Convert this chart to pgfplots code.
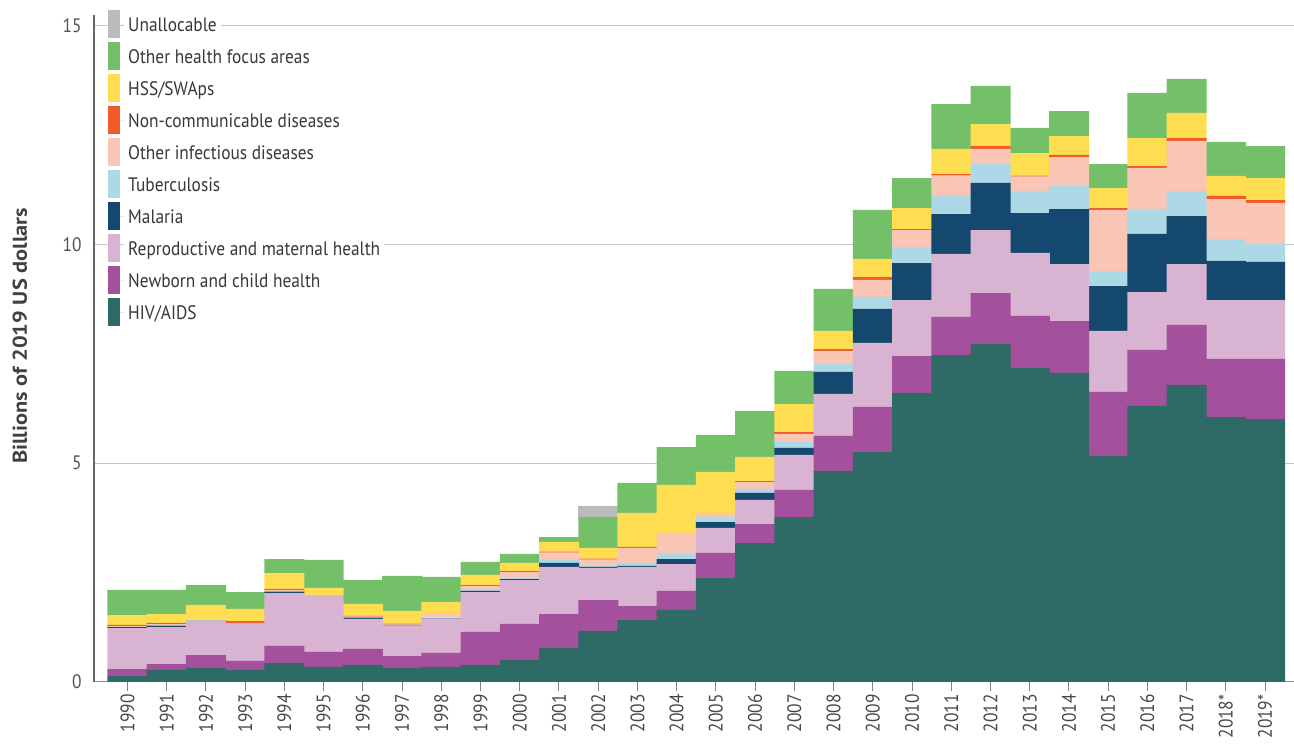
\documentclass[border=0pt]{standalone}
\usepackage{fontspec}
\setmainfont{PT Sans}[FakeStretch=0.89]
\newfontfamily\ylfont{PT Sans}[FakeStretch=1.12]
\usepackage{pgfplots}
\pgfplotsset{compat=1.18}
\usepackage{pgfplotstable}

\definecolor{cHIV}{HTML}{2E6B67}
\definecolor{cNCH}{HTML}{A4509D}
\definecolor{cRMH}{HTML}{D9B3D2}
\definecolor{cMAL}{HTML}{15486E}
\definecolor{cTB}{HTML}{ADD8E5}
\definecolor{cOID}{HTML}{F9C6B5}
\definecolor{cNCD}{HTML}{F15A29}
\definecolor{cHSS}{HTML}{FEDD50}
\definecolor{cOHF}{HTML}{74C069}
\definecolor{cUNA}{HTML}{BBBBBD}

\newcommand{\lf}{\fontsize{19.5}{22}\selectfont}

\pgfplotstableread{
year hiv nch rmh mal tb oid ncd hss ohf una
1990 0.137 0.160 0.937 0.020 0.008 0.012 0.029 0.228 0.572 0
1991 0.274 0.137 0.846 0.030 0.010 0.025 0.027 0.205 0.549 0
1992 0.320 0.297 0.770 0.008 0.012 0.010 0.000 0.343 0.457 0
1993 0.274 0.206 0.860 0.005 0.002 0.002 0.045 0.275 0.388 0
1994 0.434 0.389 1.211 0.030 0.015 0.017 0.030 0.365 0.320 0
1995 0.343 0.343 1.280 0.005 0.005 0.013 0.000 0.160 0.640 0
1996 0.389 0.366 0.685 0.030 0.015 0.010 0.014 0.274 0.548 0
1997 0.320 0.274 0.686 0.010 0.020 0.000 0.023 0.290 0.800 0
1998 0.343 0.320 0.777 0.008 0.030 0.076 0.000 0.275 0.571 0
1999 0.389 0.754 0.914 0.023 0.023 0.091 0.023 0.229 0.297 0
2000 0.503 0.823 1.005 0.023 0.020 0.140 0.023 0.183 0.206 0
2001 0.777 0.777 1.075 0.091 0.069 0.167 0.023 0.221 0.114 0
2002 1.166 0.708 0.732 0.023 0.023 0.144 0.023 0.244 0.708 0.252
2003 1.417 0.320 0.892 0.023 0.068 0.343 0.023 0.777 0.686 0
2004 1.646 0.434 0.617 0.114 0.115 0.480 0.000 1.097 0.868 0
2005 2.377 0.572 0.571 0.137 0.092 0.114 0.000 0.937 0.846 0
2006 3.177 0.434 0.549 0.160 0.091 0.160 0.023 0.549 1.051 0
2007 3.771 0.618 0.800 0.160 0.137 0.183 0.045 0.640 0.755 0
2008 4.823 0.800 0.960 0.503 0.183 0.297 0.045 0.412 0.960 0
2009 5.257 1.029 1.463 0.777 0.274 0.389 0.068 0.412 1.120 0
2010 6.606 0.845 1.280 0.846 0.366 0.388 0.023 0.480 0.686 0
2011 7.474 0.869 1.440 0.914 0.434 0.442 0.038 0.572 1.028 0
2012 7.726 1.165 1.440 1.075 0.434 0.343 0.068 0.503 0.869 0
2013 7.177 1.189 1.440 0.914 0.503 0.327 0.023 0.518 0.572 0
2014 7.063 1.188 1.303 1.257 0.526 0.663 0.046 0.434 0.571 0
2015 5.166 1.463 1.394 1.028 0.343 1.395 0.045 0.457 0.549 0
2016 6.309 1.280 1.325 1.326 0.571 0.938 0.045 0.640 1.029 0
2017 6.789 1.371 1.394 1.097 0.572 1.143 0.068 0.572 0.777 0
2018 6.057 1.326 1.348 0.892 0.503 0.914 0.069 0.457 0.777 0
2019 6.011 1.372 1.348 0.869 0.411 0.938 0.068 0.503 0.731 0
}\data

\begin{document}
\begin{tikzpicture}
\useasboundingbox (0,0) rectangle (1294pt,746pt);
\begin{axis}[
  at={(94pt,64pt)}, anchor=south west,
  scale only axis, width=1200pt, height=667pt,
  ybar stacked, bar width=1.02,
  xmin=1989.146, xmax=2019.735,
  ymin=0, ymax=15.246,
  axis x line*=bottom, axis y line*=left,
  x axis line style={draw=black!45, line width=1pt},
  y axis line style={draw=black!60, line width=1.5pt},
  xtick={1990,...,2019},
  xticklabels={1990,1991,1992,1993,1994,1995,1996,1997,1998,1999,2000,2001,2002,2003,2004,2005,2006,2007,2008,2009,2010,2011,2012,2013,2014,2015,2016,2017,2018*,2019*},
  tick align=outside, major tick length=9pt,
  xtick style={draw=black!50, line width=1pt},
  xticklabel style={rotate=90, anchor=east, font=\lf, text=black!72},
  ytick={0,5,10,15},
  ytick style={draw=none},
  yticklabel style={font=\lf, text=black!68},
  /pgf/number format/assume math mode=true,
  ymajorgrids, grid style={draw=black!22, line width=1pt},
  ylabel={Billions of 2019 US dollars},
  ylabel style={at={(axis description cs:-0.0617,0.519)}, anchor=center, font=\ylfont\bfseries\fontsize{20}{22}\selectfont, text=black!75},
  legend image code/.code={\fill[#1] (0pt,-14pt) rectangle (12pt,14pt); \path (0pt,0pt) -- (16pt,0pt);},
  reverse legend,
  legend cell align=left,
  legend style={at={(axis description cs:0.01167,1.0075)}, anchor=north west,
    draw=none, fill=none, inner sep=0pt, row sep=4pt,
    nodes={inner sep=0pt, inner xsep=4pt, fill=white, text depth=0pt, font=\lf, text=black!78}},
]
\addplot[fill=cHIV, draw=none] table[x=year, y=hiv] {\data};
\addlegendentry{HIV/AIDS}
\addplot[fill=cNCH, draw=none] table[x=year, y=nch] {\data};
\addlegendentry{Newborn and child health}
\addplot[fill=cRMH, draw=none] table[x=year, y=rmh] {\data};
\addlegendentry{Reproductive and maternal health}
\addplot[fill=cMAL, draw=none] table[x=year, y=mal] {\data};
\addlegendentry{Malaria}
\addplot[fill=cTB, draw=none] table[x=year, y=tb] {\data};
\addlegendentry{Tuberculosis}
\addplot[fill=cOID, draw=none] table[x=year, y=oid] {\data};
\addlegendentry{Other infectious diseases}
\addplot[fill=cNCD, draw=none] table[x=year, y=ncd] {\data};
\addlegendentry{Non-communicable diseases}
\addplot[fill=cHSS, draw=none] table[x=year, y=hss] {\data};
\addlegendentry{HSS/SWAps}
\addplot[fill=cOHF, draw=none] table[x=year, y=ohf] {\data};
\addlegendentry{Other health focus areas}
\addplot[fill=cUNA, draw=none] table[x=year, y=una] {\data};
\addlegendentry{Unallocable}
\end{axis}
\end{tikzpicture}
\end{document}
